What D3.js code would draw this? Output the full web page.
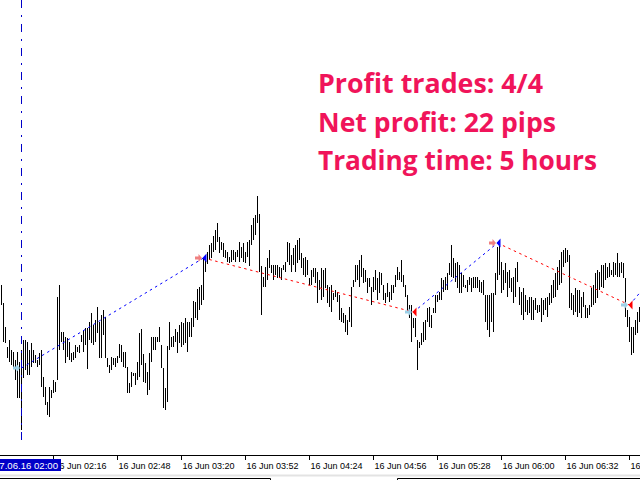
<!DOCTYPE html>
<html><head><meta charset="utf-8">
<script src="https://cdn.jsdelivr.net/npm/d3@7"></script>
<style>html,body{margin:0;padding:0;background:#fff;overflow:hidden}</style>
</head><body>
<svg id="c" width="640" height="480"></svg>
<script>
// M1 bars starting 16 Jun 01:50, prices in points above 1.12000
const firstBar = "2016-06-16 01:50";
const high = [215,197,173,153,160,150,148,140,148,138,150,160,160,158,150,157,150,145,140,147,
150,123,113,98,113,110,120,118,203,215,168,168,163,162,158,147,148,155,153,155,
165,170,172,172,178,187,175,180,193,178,185,190,183,142,135,143,142,142,144,156,
155,148,148,133,117,128,127,127,138,167,171,146,137,128,147,163,163,163,163,173,
155,132,112,154,178,163,164,171,168,175,178,177,182,178,178,182,199,198,211,213,
215,242,243,248,255,257,264,270,277,263,258,257,250,248,243,250,250,248,250,258,
253,257,248,258,260,275,282,285,304,286,234,223,233,242,250,235,235,235,235,233,
232,235,238,258,257,245,252,255,260,262,247,242,243,240,222,230,232,232,228,220,
232,230,232,215,213,215,207,210,208,205,192,187,185,180,193,213,220,235,235,240,
245,232,230,222,222,213,223,230,222,228,227,215,207,217,208,215,215,225,233,228,
240,225,215,205,195,195,182,182,160,158,167,178,180,192,193,185,192,205,205,208,
222,220,223,227,237,255,242,237,238,235,227,225,215,220,223,222,223,223,223,220,
218,220,205,205,205,207,207,227,253,260,238,230,237,228,230,222,223,232,238,213,
208,212,205,200,203,203,200,202,195,195,202,200,202,203,207,215,220,227,233,240,
248,250,252,250,245,207,205,212,210,210,203,208,195,192,195,212,215,227,230,228,
235,235,237,233,237,230,238,237,247,237,238,237,222,190,183,173,173,180,188,193];
const low = [195,158,157,142,138,135,132,120,102,102,70,122,130,125,125,133,137,137,133,135,
113,103,95,85,83,102,107,108,120,150,158,150,137,143,140,138,140,142,148,147,
158,148,155,131,160,157,155,158,167,142,142,165,142,133,127,130,135,133,137,142,
138,133,132,107,107,113,124,115,120,123,135,118,117,105,110,138,150,150,158,158,
132,92,90,98,150,153,153,158,147,157,153,155,157,148,163,163,173,182,180,190,
195,200,228,236,240,242,248,250,258,247,250,243,242,238,237,238,240,238,243,238,
242,238,237,243,234,255,260,265,277,228,185,213,213,220,232,227,220,225,222,222,
220,230,228,238,235,228,235,228,237,240,232,225,223,225,215,215,223,217,197,210,
200,203,212,197,193,188,200,203,198,180,178,177,168,165,178,173,213,218,220,213,
223,217,218,207,213,195,208,210,200,207,215,200,197,203,198,200,207,213,220,220,
218,213,203,188,182,158,172,163,130,152,155,158,160,178,173,172,187,187,198,200,
200,208,210,210,225,223,222,218,212,207,207,213,212,208,215,208,212,212,212,208,
207,205,178,170,163,178,168,205,220,225,207,210,217,203,212,208,197,203,218,195,
185,180,188,185,187,180,180,190,187,188,178,185,190,183,195,197,202,203,210,215,
217,233,237,238,192,190,185,188,183,187,182,193,182,182,185,193,195,197,202,210,
213,212,220,222,223,225,223,225,223,223,227,222,183,173,158,145,147,165,167,178];

// trades (prices in points above 1.12000)
const tradeType  = ["buy","sell","buy","sell","buy"];
const openTime   = ["02:00","03:31","05:16","05:58","07:04"];
const openPrice  = [132,242,188,257,195];
const closeTime  = ["03:31","05:16","05:58","07:04","07:20"];
const closePrice = [242,188,257,195,233];

const statsLines = ["Profit trades: 4/4","Net profit: 22 pips","Trading time: 5 hours"];
const tickTimes = ["02:16","02:48","03:20","03:52","04:24","04:56","05:28","06:00","06:32","07:04"];
const markerTime = "02:00";
const markerLabel = "17.06.16 02:00";

const W = 640, H = 480, axisY = 455;
const day = "2016-06-16 ";
const parse = d3.timeParse("%Y-%m-%d %H:%M");
const T = s => parse(day + s);
const price = p => 1.12 + p / 100000;
const t0 = parse(firstBar);
const barTimes = high.map((_, i) => d3.timeMinute.offset(t0, i));

const x = d3.scaleTime()
  .domain([new Date(T("02:00").getTime() - 10.5 * 60000), new Date(T("02:00").getTime() + 309.5 * 60000)])
  .range([0, W]);
const y = d3.scaleLinear().domain([price(45), price(500)]).range([axisY, 0]);

const svg = d3.select("#c");
svg.append("defs").append("clipPath").attr("id", "plot")
  .append("rect").attr("x", 0).attr("y", 0).attr("width", W).attr("height", axisY);
const plot = svg.append("g").attr("clip-path", "url(#plot)");

// bars
plot.append("g").selectAll("line").data(barTimes).join("line")
  .attr("x1", d => Math.round(x(d)) + 0.5).attr("x2", d => Math.round(x(d)) + 0.5)
  .attr("y1", (d, i) => y(price(high[i]))).attr("y2", (d, i) => y(price(low[i])))
  .attr("stroke", "#000").attr("stroke-width", 1).attr("shape-rendering", "crispEdges");

// vertical marker line
const mx = Math.round(x(T(markerTime))) + 0.5;
svg.append("line").attr("x1", mx).attr("x2", mx).attr("y1", 0).attr("y2", 447)
  .attr("stroke", "#0000C8").attr("stroke-width", 1).attr("stroke-dasharray", "8,7,2,7")
  .attr("shape-rendering", "crispEdges");

// trade lines
const trades = tradeType.map((t, i) => ({t, ot: T(openTime[i]), op: price(openPrice[i]), ct: T(closeTime[i]), cp: price(closePrice[i])}));
plot.append("g").selectAll("line").data(trades).join("line")
  .attr("x1", d => x(d.ot) + 0.5).attr("y1", d => y(d.op))
  .attr("x2", d => x(d.ct) + 0.5).attr("y2", d => y(d.cp))
  .attr("stroke", d => d.t === "buy" ? "#0000FF" : "#FF0000")
  .attr("stroke-width", 1).attr("stroke-dasharray", "2.5,3.5");

// close markers (triangles)
plot.append("g").selectAll("path").data(trades.slice(0, 4)).join("path")
  .attr("d", d => { const px = x(d.ct) + 0.5, py = y(d.cp); return `M${px - 1},${py} L${px + 3},${py - 4.5} L${px + 3},${py + 4.5} Z`; })
  .attr("fill", d => d.t === "buy" ? "#0000FF" : "#FF0000");

// entry arrows
plot.append("g").selectAll("path").data(trades).join("path")
  .attr("d", d => { const px = x(d.ot) - 1, py = y(d.op);
    return `M${px - 7},${py - 1.5} H${px - 3.5} V${py - 4} L${px},${py} L${px - 3.5},${py + 4} V${py + 1.5} H${px - 7} Z`; })
  .attr("fill", d => d.t === "buy" ? "#9CCFE6" : "#F08080");

// stats text
const widths = [225, 238, 279];
svg.append("g").selectAll("text").data(statsLines).join("text")
  .attr("x", 318).attr("y", (d, i) => 93 + i * 38.5)
  .attr("textLength", (d, i) => widths[i]).attr("lengthAdjust", "spacingAndGlyphs")
  .attr("font-family", "'Open Sans', sans-serif").attr("font-weight", 700).attr("font-size", 26)
  .attr("fill", "#F0145A").text(d => d);

// time axis
const fmt = d3.timeFormat("%d %b %H:%M");
const ax = svg.append("g").attr("transform", `translate(0,${axisY})`)
  .call(d3.axisBottom(x).tickValues(tickTimes.map(T)).tickFormat(fmt).tickSize(5).tickSizeOuter(0));
ax.select(".domain").remove();
ax.append("line").attr("x1", 0).attr("x2", W).attr("y1", 0.5).attr("y2", 0.5).attr("stroke", "#000");
ax.selectAll(".tick").attr("transform", d => `translate(${Math.round(x(d)) + 0.5},0)`);
ax.selectAll(".tick line").attr("stroke", "#000").attr("y1", 0.5).attr("shape-rendering", "crispEdges");
ax.selectAll(".tick text").attr("x", 1).attr("y", 13.5).attr("dy", 0)
  .attr("text-anchor", "start").attr("fill", "#000")
  .attr("font-family", "'Liberation Sans', Arial, sans-serif").attr("font-size", 9);

// highlighted marker label
svg.append("rect").attr("x", 0).attr("y", 459).attr("width", 61).attr("height", 12).attr("fill", "#0000C8");
svg.append("text").attr("x", 58).attr("y", 468.5).attr("text-anchor", "end")
  .attr("font-family", "'Liberation Sans', Arial, sans-serif").attr("font-size", 9.6)
  .attr("fill", "#fff").text(markerLabel);

// bottom frame
svg.append("rect").attr("x", 0).attr("y", 474.5).attr("width", W).attr("height", 2).attr("fill", "#E3E3E3");
svg.append("path").attr("d", "M0,478.5 H270.5 V480 M397.5,480 V478.5 H640")
  .attr("stroke", "#000").attr("fill", "none");
</script>
</body></html>
